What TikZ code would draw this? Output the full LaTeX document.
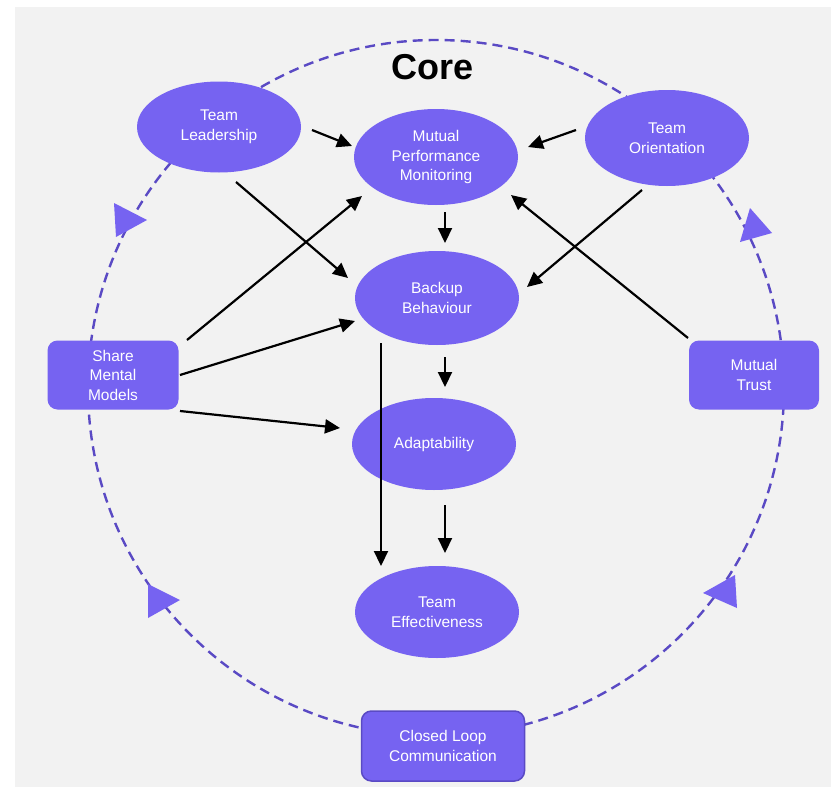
\documentclass[tikz,border=0pt]{standalone}
\usepackage{fontspec}
\setmainfont{Liberation Sans}
\usetikzlibrary{shapes.geometric,arrows.meta}

\definecolor{nodefill}{RGB}{118,99,241}
\definecolor{ringcol}{RGB}{90,74,196}
\definecolor{bgcol}{RGB}{242,242,242}

\begin{document}
\begin{tikzpicture}[x=1pt,y=-1pt,
  ellnode/.style={ellipse, fill=nodefill, draw=none, inner sep=0pt,
    minimum width=164pt, minimum height=94pt, text=white, align=center,
    font=\fontsize{15.5}{19.5}\selectfont},
  boxnode/.style={rectangle, rounded corners=10pt, fill=nodefill, draw=none,
    inner sep=0pt, minimum width=131pt, minimum height=69pt, text=white,
    align=center, font=\fontsize{15.5}{19.5}\selectfont},
  arr/.style={draw=black, line width=2.2pt,
    -{Triangle[length=15pt,width=14pt]}},
  ring/.style={draw=ringcol, line width=2.4pt, dash pattern=on 10pt off 6pt},
  marker/.style={fill=nodefill, draw=none}
]
\useasboundingbox (0,0) rectangle (831,787);
\fill[bgcol] (15,7) rectangle (831,787);

% dashed loop around the core
\draw[ring] (436,388) circle[radius=348pt];

% direction markers on the loop
\fill[marker] (114,203) -- (147,220) -- (116,237) -- cycle;
\fill[marker] (148,584) -- (180,600) -- (148,618) -- cycle;
\fill[marker] (740,242) -- (750,208) -- (772,233) -- cycle;
\fill[marker] (703,593) -- (735,575) -- (737,608) -- cycle;

\node[font=\fontsize{36}{40}\selectfont\bfseries] (core) at (433,67) {Core};

% nodes
\node[ellnode, minimum height=91pt] (tl) at (219,127) {Team\\Leadership};
\node[ellnode, minimum height=96pt] (mpm) at (436,157) {Mutual\\Performance\\Monitoring};
\node[ellnode, minimum height=96pt] (to) at (667,138) {Team\\Orientation};
\node[ellnode] (bb) at (437,298) {Backup\\Behaviour};
\node[ellnode, minimum height=92pt] (ad) at (434,444) {Adaptability};
\node[ellnode, minimum height=92pt] (te) at (437,612) {Team\\Effectiveness};

\node[boxnode] (smm) at (113,375) {Share\\Mental\\Models};
\node[boxnode, minimum width=130pt] (mt) at (754,375) {Mutual\\Trust};
\node[boxnode, minimum width=163pt, minimum height=70pt, draw=ringcol,
      line width=1.5pt] (clc) at (443,746) {Closed Loop\\Communication};

% connectors
\draw[arr] ([shift={(93,3)}]tl.center) -- ([shift={(-84,-11)}]mpm.center);
\draw[arr] ([shift={(-91,-8)}]to.center) -- ([shift={(92,-10)}]mpm.center);
\draw[arr] ([shift={(17,55)}]tl.center) -- ([shift={(-89,-20)}]bb.center);
\draw[arr] ([shift={(74,-35)}]smm.center) -- ([shift={(-74,39)}]mpm.center);
\draw[arr] ([shift={(67,0)}]smm.center) -- ([shift={(-82,23)}]bb.center);
\draw[arr] ([shift={(67,36)}]smm.center) -- ([shift={(-94,-16)}]ad.center);
\draw[arr] ([shift={(-25,52)}]to.center) -- ([shift={(90,-11)}]bb.center);
\draw[arr] ([shift={(-66,-37)}]mt.center) -- ([shift={(75,38)}]mpm.center);

\draw[arr] ([shift={(9,55)}]mpm.center) -- ([shift={(8,-55)}]bb.center);
\draw[arr] ([shift={(8,59)}]bb.center) -- ([shift={(11,-57)}]ad.center);
\draw[arr] ([shift={(11,61)}]ad.center) -- ([shift={(8,-59)}]te.center);
\draw[arr] ([shift={(-56,45)}]bb.center) -- ([shift={(-56,-46)}]te.center);
\end{tikzpicture}
\end{document}
